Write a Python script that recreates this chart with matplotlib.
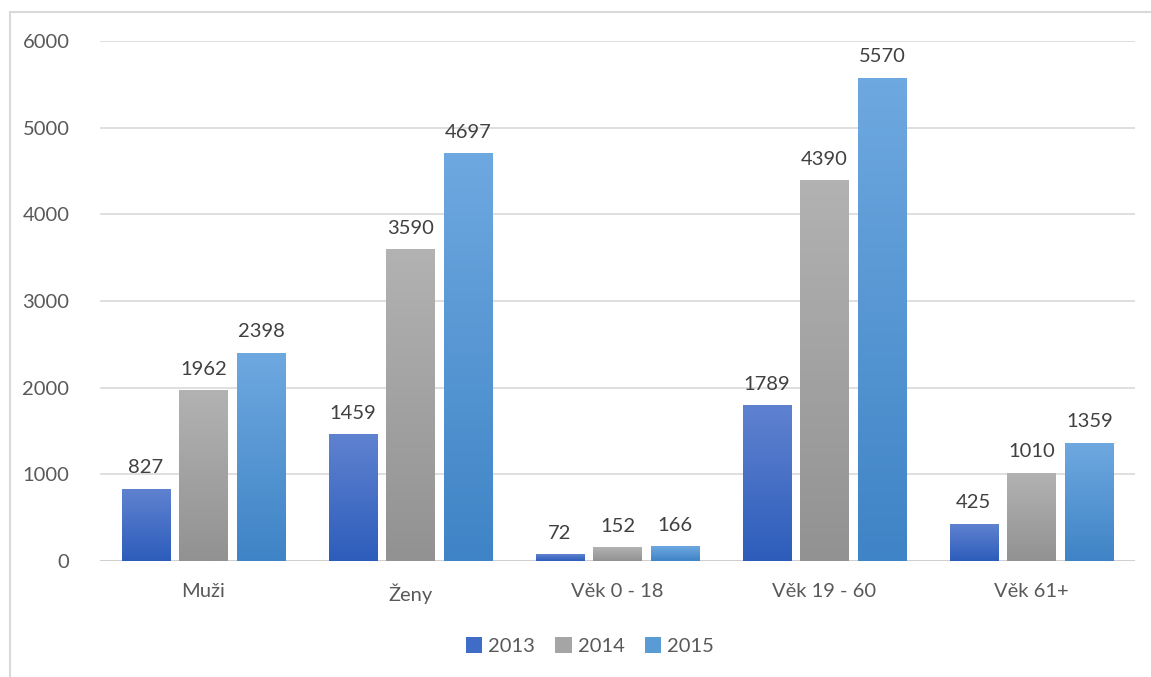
import matplotlib
matplotlib.use("Agg")
import matplotlib.pyplot as plt
import numpy as np
from matplotlib.colors import LinearSegmentedColormap
from matplotlib.patches import Patch
from matplotlib.lines import Line2D

categories = ["Muži", "Ženy", "Věk 0 - 18", "Věk 19 - 60", "Věk 61+"]
years = ["2013", "2014", "2015"]
v2013 = [827, 1459, 72, 1789, 425]
v2014 = [1962, 3590, 152, 4390, 1010]
v2015 = [2398, 4697, 166, 5570, 1359]
series = [v2013, v2014, v2015]

# (top colour, bottom colour) per series
grads = [("#5f82d0", "#2d5dbb"), ("#b2b2b2", "#929292"), ("#6ea8e0", "#3f84c6")]
legend_cols = ["#3f6cc6", "#a5a5a5", "#5b9bd5"]

plt.rcParams["font.family"] = ["Lato", "DejaVu Sans"]
TXT = "#595959"

fig = plt.figure(figsize=(11.51, 6.77), dpi=100)
W, H = 1151, 677
ax = fig.add_axes([100 / W, 1 - 561 / H, 1035 / W, 520 / H])

bw = 0.232
step = 0.279
x = np.arange(len(categories))
for i, (vals, (top, bot)) in enumerate(zip(series, grads)):
    cmap = LinearSegmentedColormap.from_list(f"g{i}", [bot, top])
    for xi, v in zip(x, vals):
        cx = xi + (i - 1) * step
        grad = np.linspace(0, 1, 100).reshape(-1, 1)
        ax.imshow(grad, cmap=cmap, origin="lower", aspect="auto",
                  extent=(cx - bw / 2, cx + bw / 2, 0, v), zorder=3)
        ax.text(cx, v + 150, f"{v}", ha="center", va="bottom",
                fontsize=14.5, color="#404040", zorder=4)

ax.set_xlim(-0.5, len(categories) - 0.5)
ax.set_ylim(0, 6000)
ax.set_yticks(np.arange(0, 6001, 1000))
ax.set_xticks(x)
ax.set_xticklabels(categories)
ax.tick_params(axis="both", length=0, labelsize=14.5, labelcolor=TXT)
ax.tick_params(axis="y", pad=22)
ax.tick_params(axis="x", pad=16)
ax.grid(axis="y", color="#d9d9d9", linewidth=1.2, zorder=0)
ax.set_axisbelow(True)
for s in ax.spines.values():
    s.set_visible(False)
ax.axhline(0, color="#d0d0d0", linewidth=1.4, zorder=2)

handles = [Patch(facecolor=c, edgecolor="none") for c in legend_cols]
fig.legend(handles, years, loc="center", bbox_to_anchor=(590 / W, 1 - 646 / H),
           ncol=3, frameon=False, fontsize=14.5, labelcolor=TXT,
           handlelength=0.8, handleheight=0.8, handletextpad=0.3,
           columnspacing=1.0)

# outer chart border (left and top edges visible)
fig.add_artist(Line2D([10 / W, 10 / W], [0, 1 - 12 / H], color="#d9d9d9",
                      linewidth=1.5, transform=fig.transFigure))
fig.add_artist(Line2D([10 / W, 1], [1 - 12 / H, 1 - 12 / H], color="#d9d9d9",
                      linewidth=1.5, transform=fig.transFigure))

fig.savefig("out.png", dpi=100)
